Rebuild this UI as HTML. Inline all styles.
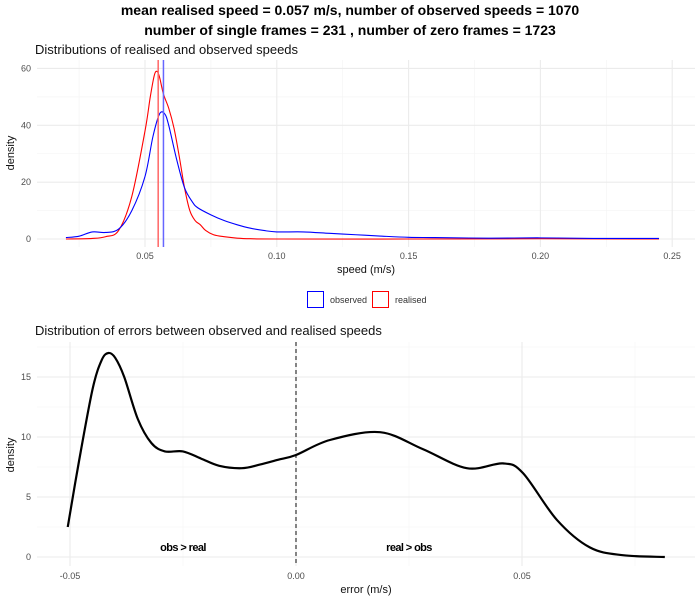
<!DOCTYPE html>
<html><head><meta charset="utf-8"><style>
body{margin:0;background:#fff;font-family:"Liberation Sans",sans-serif}
svg text{font-family:"Liberation Sans",sans-serif}
</style></head><body>
<svg id="c" width="700" height="600" xmlns="http://www.w3.org/2000/svg">
<text x="350" y="15" text-anchor="middle" font-size="14" font-weight="bold">mean realised speed = 0.057 m/s, number of observed speeds = 1070</text>
<text x="350" y="35" text-anchor="middle" font-size="14" font-weight="bold">number of single frames = 231 , number of zero frames = 1723</text>
<text x="35" y="54" font-size="13" fill="#111">Distributions of realised and observed speeds</text>
<text x="35" y="335" font-size="13" fill="#111">Distribution of errors between observed and realised speeds</text>
<g id="topPanel"></g>
<g id="botPanel"></g>
<g>
<rect x="307.5" y="291.5" width="16" height="16" fill="none" stroke="#0000ff"/>
<text x="330" y="303" font-size="9" fill="#333">observed</text>
<rect x="372.5" y="291.5" width="16" height="16" fill="none" stroke="#ff0000"/>
<text x="395" y="303" font-size="9" fill="#333">realised</text>
</g>
</svg>
<script>
const speedTicks=[0.05,0.10,0.15,0.20,0.25];
const speedTickLabels=["0.05","0.10","0.15","0.20","0.25"];
const densTicks=[0,20,40,60];
const realX=[0.02,0.03,0.035,0.04,0.045,0.05,0.052,0.0535,0.0545,0.0555,0.057,0.059,0.061,0.063,0.065,0.067,0.069,0.071,0.073,0.076,0.08,0.085,0.09,0.1,0.15,0.2,0.245];
const realY=[0,0.2,0.8,3,15,38,50,57.5,59,57,51,46,39,29,18,10,6.5,5,3,1.5,0.8,0.3,0.1,0,0,0.1,0];
const obsX=[0.02,0.025,0.03,0.035,0.04,0.045,0.05,0.053,0.0555,0.0575,0.059,0.062,0.065,0.068,0.07,0.075,0.08,0.085,0.09,0.095,0.1,0.11,0.12,0.13,0.14,0.15,0.16,0.18,0.2,0.22,0.245];
const obsY=[0.5,1,2.5,2.3,3.5,10,22,36,44,44,40,28,18,13,11,8.5,6.5,5,3.8,3,2.5,2.5,2,1.5,1,0.6,0.5,0.3,0.4,0.2,0.2];
const meanReal=0.055, meanObs=0.057;
const errTicks=[-0.05,0,0.05];
const errTickLabels=["-0.05","0.00","0.05"];
const errDensTicks=[0,5,10,15];
const errX=[-0.0505,-0.048,-0.045,-0.043,-0.0415,-0.040,-0.038,-0.035,-0.032,-0.029,-0.025,-0.021,-0.017,-0.012,-0.008,-0.004,0,0.0075,0.0186,0.028,0.0378,0.0458,0.0502,0.0577,0.065,0.0723,0.0816];
const errY=[2.5,8,14,16.4,17,16.6,15,11.5,9.5,8.8,8.8,8.2,7.6,7.4,7.7,8.1,8.5,9.75,10.4,9,7.4,7.8,7.0,3.1,0.8,0.15,0];

const NS="http://www.w3.org/2000/svg";
function el(p,t,a){const e=document.createElementNS(NS,t);for(const k in a)e.setAttribute(k,a[k]);p.appendChild(e);return e;}
function smooth(pts){let d="M"+pts[0][0]+","+pts[0][1];for(let i=0;i<pts.length-1;i++){const p0=pts[i-1]||pts[i],p1=pts[i],p2=pts[i+1],p3=pts[i+2]||p2;
d+=" C"+(p1[0]+(p2[0]-p0[0])/6)+","+(p1[1]+(p2[1]-p0[1])/6)+" "+(p2[0]-(p3[0]-p1[0])/6)+","+(p2[1]-(p3[1]-p1[1])/6)+" "+p2[0]+","+p2[1];}return d;}

const topG=document.getElementById('topPanel');
const tx=v=>145+(v-0.05)*2636, ty=v=>239-v*2.842;
const tL=37,tR=695,tT=60,tB=247;
[0.025,0.075,0.125,0.175,0.225].forEach(v=>{const l=el(topG,'line',{x1:tx(v),x2:tx(v),y1:tT,y2:tB,stroke:'#f3f3f3','stroke-width':0.6});});
[10,30,50].forEach(v=>{const l=el(topG,'line',{x1:tL,x2:tR,y1:ty(v),y2:ty(v),stroke:'#f3f3f3','stroke-width':0.6});});
speedTicks.forEach((v,i)=>{const l=el(topG,'line',{x1:tx(v),x2:tx(v),y1:tT,y2:tB,stroke:'#ebebeb','stroke-width':1.1});
const t=el(topG,'text',{x:tx(v),y:259,'text-anchor':'middle','font-size':9,fill:'#4d4d4d'});t.textContent=speedTickLabels[i];});
densTicks.forEach(v=>{const l=el(topG,'line',{x1:tL,x2:tR,y1:ty(v),y2:ty(v),stroke:'#ebebeb','stroke-width':1.1});
const t=el(topG,'text',{x:31,y:ty(v)+3,'text-anchor':'end','font-size':9,fill:'#4d4d4d'});t.textContent=v;});
let t1=el(topG,'text',{x:366,y:273,'text-anchor':'middle','font-size':11,fill:'#111'});t1.textContent='speed (m/s)';
let t2=el(topG,'text',{x:14,y:153,'text-anchor':'middle','font-size':11,fill:'#111',transform:'rotate(-90 14 153)'});t2.textContent='density';
let p1=el(topG,'path',{d:smooth(realX.map((x,i)=>[tx(x),ty(realY[i])])),fill:'none',stroke:'#f00','stroke-width':1.1});
let p2=el(topG,'path',{d:smooth(obsX.map((x,i)=>[tx(x),ty(obsY[i])])),fill:'none',stroke:'#00f','stroke-width':1.1});
let m1=el(topG,'line',{x1:tx(meanReal),x2:tx(meanReal),y1:tT,y2:tB,stroke:'#f66','stroke-width':1.5});
let m2=el(topG,'line',{x1:tx(meanObs),x2:tx(meanObs),y1:tT,y2:tB,stroke:'#66f','stroke-width':1.5});

const botG=document.getElementById('botPanel');
const bx=v=>296+v*4520, by=v=>557-v*12;
const bL=37,bR=695,bT=342,bB=566;
[-0.025,0.025,0.075].forEach(v=>{const l=el(botG,'line',{x1:bx(v),x2:bx(v),y1:bT,y2:bB,stroke:'#f3f3f3','stroke-width':0.6});});
[2.5,7.5,12.5,17.5].forEach(v=>{const l=el(botG,'line',{x1:bL,x2:bR,y1:by(v),y2:by(v),stroke:'#f3f3f3','stroke-width':0.6});});
errTicks.forEach((v,i)=>{const l=el(botG,'line',{x1:bx(v),x2:bx(v),y1:bT,y2:bB,stroke:'#ebebeb','stroke-width':1.1});
const t=el(botG,'text',{x:bx(v),y:579,'text-anchor':'middle','font-size':9,fill:'#4d4d4d'});t.textContent=errTickLabels[i];});
errDensTicks.forEach(v=>{const l=el(botG,'line',{x1:bL,x2:bR,y1:by(v),y2:by(v),stroke:'#ebebeb','stroke-width':1.1});
const t=el(botG,'text',{x:31,y:by(v)+3,'text-anchor':'end','font-size':9,fill:'#4d4d4d'});t.textContent=v;});
let t3=el(botG,'text',{x:366,y:593,'text-anchor':'middle','font-size':11,fill:'#111'});t3.textContent='error (m/s)';
let t4=el(botG,'text',{x:14,y:455,'text-anchor':'middle','font-size':11,fill:'#111',transform:'rotate(-90 14 455)'});t4.textContent='density';
let dz=el(botG,'line',{x1:bx(0),x2:bx(0),y1:bT,y2:bB,stroke:'#333','stroke-width':1.2,'stroke-dasharray':'4,3'});
let p3=el(botG,'path',{d:smooth(errX.map((x,i)=>[bx(x),by(errY[i])])),fill:'none',stroke:'#000','stroke-width':2.2});
let a1=el(botG,'text',{x:183,y:551,'text-anchor':'middle','font-size':11,'font-weight':'bold','letter-spacing':'-0.6'});a1.textContent='obs > real';
let a2=el(botG,'text',{x:409,y:551,'text-anchor':'middle','font-size':11,'font-weight':'bold','letter-spacing':'-0.6'});a2.textContent='real > obs';
</script>
</body></html>
